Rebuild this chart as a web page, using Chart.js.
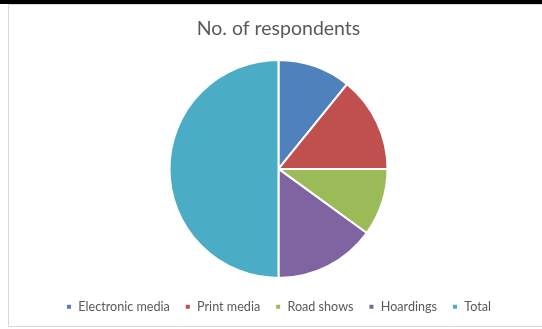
<!DOCTYPE html>
<html>
<head>
<meta charset="utf-8">
<script src="https://cdn.jsdelivr.net/npm/chart.js@4/dist/chart.umd.min.js"></script>
<style>
  body { margin: 0; background: #fff; }
  #topbar { position: absolute; left: 0; top: 0; width: 542px; height: 4px; background: #000; }
  #box {
    position: absolute; left: 8px; top: 4px; width: 534px; height: 321px;
    border-left: 1px solid #d9d9d9; border-top: 1px solid #d9d9d9; border-bottom: 1px solid #d9d9d9;
  }
  #box canvas { display: block; }
</style>
</head>
<body>
<div id="topbar"></div>
<div id="box"><canvas id="chart" width="533" height="321"></canvas></div>
<script>
var categories = ["Electronic media", "Print media", "Road shows", "Hoardings", "Total"];
var respondents = [65, 85, 60, 90, 300];
var sliceColors = ["#4f81bd", "#c0504d", "#9bbb59", "#8064a2", "#4bacc6"];

var chartConfig = {
  type: "pie",
  data: {
    labels: categories,
    datasets: [
      {
        label: "No. of respondents",
        data: respondents,
        backgroundColor: sliceColors,
        borderColor: "#ffffff",
        borderWidth: 2,
      },
    ],
  },
  options: {
    responsive: false,
    animation: false,
    radius: 109,
    layout: {
      padding: { left: 6, right: 0, top: 0, bottom: 3 },
    },
    plugins: {
      title: {
        display: true,
        text: "No. of respondents",
        color: "#595959",
        font: { family: "Lato", size: 19.5, weight: "normal" },
        padding: { top: 12, bottom: 12 },
      },
      legend: {
        position: "bottom",
        labels: {
          color: "#595959",
          font: { family: "Lato", size: 12.6 },
          boxWidth: 6,
          boxHeight: 6,
          padding: 15,
        },
      },
      tooltip: { enabled: false },
    },
  },
};

new Chart(document.getElementById("chart"), chartConfig);
</script>
</body>
</html>
